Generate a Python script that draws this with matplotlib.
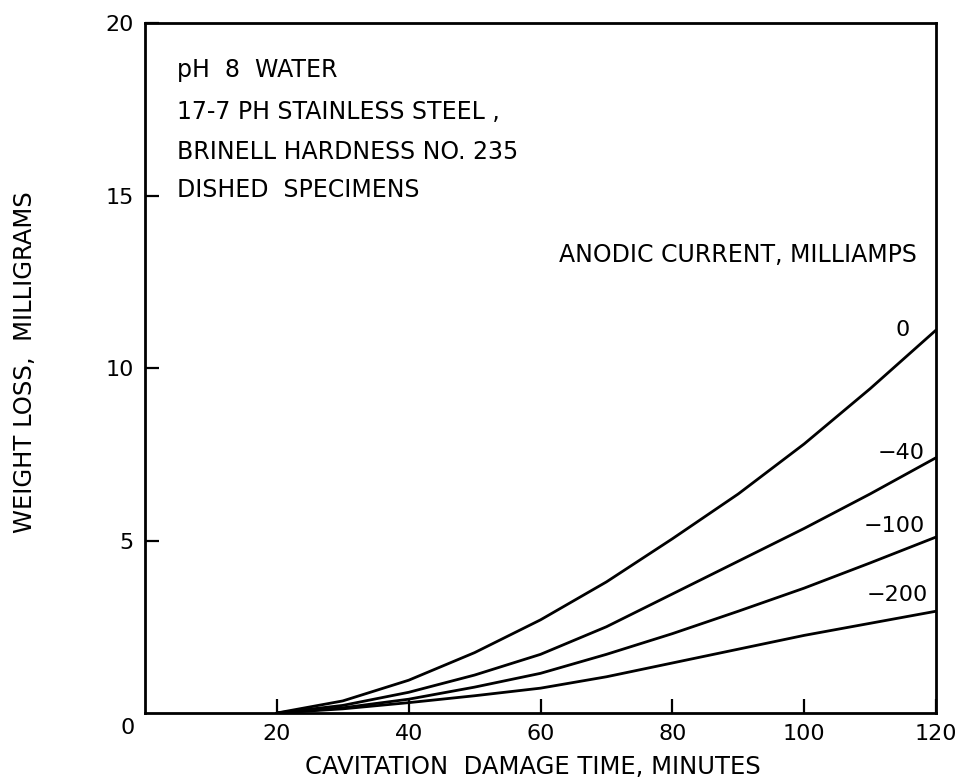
import matplotlib
matplotlib.use("Agg")
import matplotlib.pyplot as plt

# cavitation damage time, minutes
minutes = [20, 30, 40, 50, 60, 70, 80, 90, 100, 110, 120]

# weight loss (mg) for each anodic current
loss_0 = [0, 0.35, 0.95, 1.75, 2.7, 3.8, 5.05, 6.35, 7.8, 9.4, 11.1]
loss_m40 = [0, 0.22, 0.6, 1.1, 1.7, 2.5, 3.45, 4.4, 5.35, 6.35, 7.4]
loss_m100 = [0, 0.15, 0.4, 0.75, 1.15, 1.7, 2.3, 2.95, 3.62, 4.35, 5.1]
loss_m200 = [0, 0.12, 0.3, 0.5, 0.72, 1.05, 1.45, 1.85, 2.25, 2.6, 2.95]

curve_labels = ["0", "\u221240", "\u2212100", "\u2212200"]

xticks = [20, 40, 60, 80, 100, 120]
yticks = [5, 10, 15, 20]

plt.rcParams['font.family'] = ['DejaVu Sans']

fig = plt.figure(figsize=(9.64, 7.83), dpi=100)
ax = fig.add_axes([0.1504, 0.0894, 0.8206, 0.8812])

for y in [loss_0, loss_m40, loss_m100, loss_m200]:
    ax.plot(minutes, y, color='black', lw=2.0, solid_capstyle='round',
            solid_joinstyle='round')

ax.set_xlim(0, 120)
ax.set_ylim(0, 20)
ax.set_xticks(xticks)
ax.set_yticks(yticks)
ax.tick_params(direction='in', length=10, width=1.6, labelsize=16, pad=8)
for s in ax.spines.values():
    s.set_linewidth(2.0)

# notes inside the plot
note_kw = dict(fontsize=17, va='center')
ax.text(4.85, 18.64, "pH  8  WATER", **note_kw)
ax.text(4.85, 17.42, "17-7 PH STAINLESS STEEL ,", **note_kw)
ax.text(4.85, 16.26, "BRINELL HARDNESS NO. 235", **note_kw)
ax.text(4.85, 15.16, "DISHED  SPECIMENS", **note_kw)
ax.text(117.1, 13.28, "ANODIC CURRENT, MILLIAMPS", ha='right', **note_kw)

# curve labels at the right end
label_pos = [(115.0, 11.1, 'center'), (118.3, 7.54, 'right'),
             (118.3, 5.42, 'right'), (118.8, 3.42, 'right')]
for lab, (lx, ly, ha) in zip(curve_labels, label_pos):
    ax.text(lx, ly, lab, fontsize=16, va='center', ha=ha)

fig.text(128 / 964, 1 - 728 / 783, "0", fontsize=16, ha='center', va='center')
fig.text(533 / 964, 1 - 767 / 783, "CAVITATION  DAMAGE TIME, MINUTES",
         fontsize=17.5, ha='center', va='center')
fig.text(25 / 964, 1 - 362 / 783, "WEIGHT LOSS,  MILLIGRAMS",
         fontsize=17.5, ha='center', va='center', rotation=90)

fig.savefig("out.png", dpi=100)
